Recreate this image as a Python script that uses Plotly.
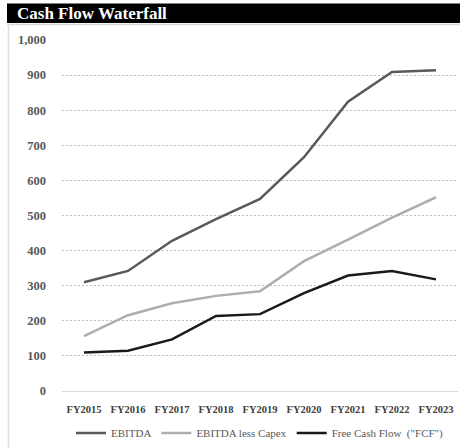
import plotly.graph_objects as go

categories = ["FY2015", "FY2016", "FY2017", "FY2018", "FY2019", "FY2020", "FY2021", "FY2022", "FY2023"]
ebitda = [310, 342, 428, 490, 547, 666, 824, 909, 914]
ebitda_less_capex = [156, 216, 250, 271, 284, 370, 431, 494, 552]
fcf = [110, 115, 147, 214, 219, 279, 329, 342, 318]
y_ticks = [0, 100, 200, 300, 400, 500, 600, 700, 800, 900, 1000]

FONT = "Liberation Serif, DejaVu Serif, serif"

fig = go.Figure()
fig.add_trace(go.Scatter(x=categories, y=ebitda, mode="lines", name="EBITDA",
                         line=dict(color="#595959", width=2.5)))
fig.add_trace(go.Scatter(x=categories, y=ebitda_less_capex, mode="lines", name="EBITDA less Capex",
                         line=dict(color="#aeaeae", width=2.5)))
fig.add_trace(go.Scatter(x=categories, y=fcf, mode="lines", name='Free Cash Flow  ("FCF")',
                         line=dict(color="#1a1a1a", width=2.5)))

H_PLOT = 351.0
W_PLOT = 396.0
def px(xp):
    return (xp - 62) / W_PLOT
def py(yp):
    return (391 - yp) / H_PLOT

fig.update_layout(
    width=460, height=448,
    margin=dict(l=62, r=2, t=40, b=57, autoexpand=False),
    paper_bgcolor="white", plot_bgcolor="white",
    font=dict(family=FONT, color="#595959"),
    showlegend=True,
    legend=dict(orientation="h", x=0.5, xanchor="center", y=py(433), yanchor="middle",
                font=dict(size=11, color="#595959", family=FONT),
                itemwidth=30, tracegroupgap=0, bgcolor="rgba(0,0,0,0)"),
    xaxis=dict(type="category", range=[-0.5, 8.5], showgrid=False, zeroline=False,
               showline=False, ticks="", ticklabelstandoff=10, automargin=False,
               tickfont=dict(size=10.5, color="#404040", family=FONT, weight="bold")),
    yaxis=dict(range=[0, 1000], tickvals=y_ticks, tickformat=",", showgrid=True,
               gridcolor="#bfbfbf", griddash="2px,2px", gridwidth=1, automargin=False,
               zeroline=True, zerolinecolor="#d9d9d9", zerolinewidth=1,
               showline=False, ticks="", ticklabelstandoff=15,
               tickfont=dict(size=12.5, color="#595959", family=FONT, weight="bold")),
    shapes=[
        dict(type="rect", xref="paper", yref="paper", x0=px(7), x1=px(462), y0=py(23), y1=py(3.5),
             fillcolor="black", line=dict(width=0), layer="above"),
        dict(type="line", xref="paper", yref="paper", x0=px(7), x1=px(462), y0=py(24.5), y1=py(24.5),
             line=dict(color="#d9d9d9", width=1.5)),
        dict(type="line", xref="paper", yref="paper", x0=px(8.5), x1=px(8.5), y0=py(24), y1=py(449),
             line=dict(color="#e0e0e0", width=1.5)),
    ],
    annotations=[
        dict(text="<b>Cash Flow Waterfall</b>", xref="paper", yref="paper", x=px(15), y=py(14),
             xanchor="left", yanchor="middle", showarrow=False,
             font=dict(size=17, color="white", family=FONT)),
    ],
)

fig.write_html("out.html", config={"displayModeBar": False},
               post_script="document.body.style.margin='0';document.body.style.overflow='hidden';")
